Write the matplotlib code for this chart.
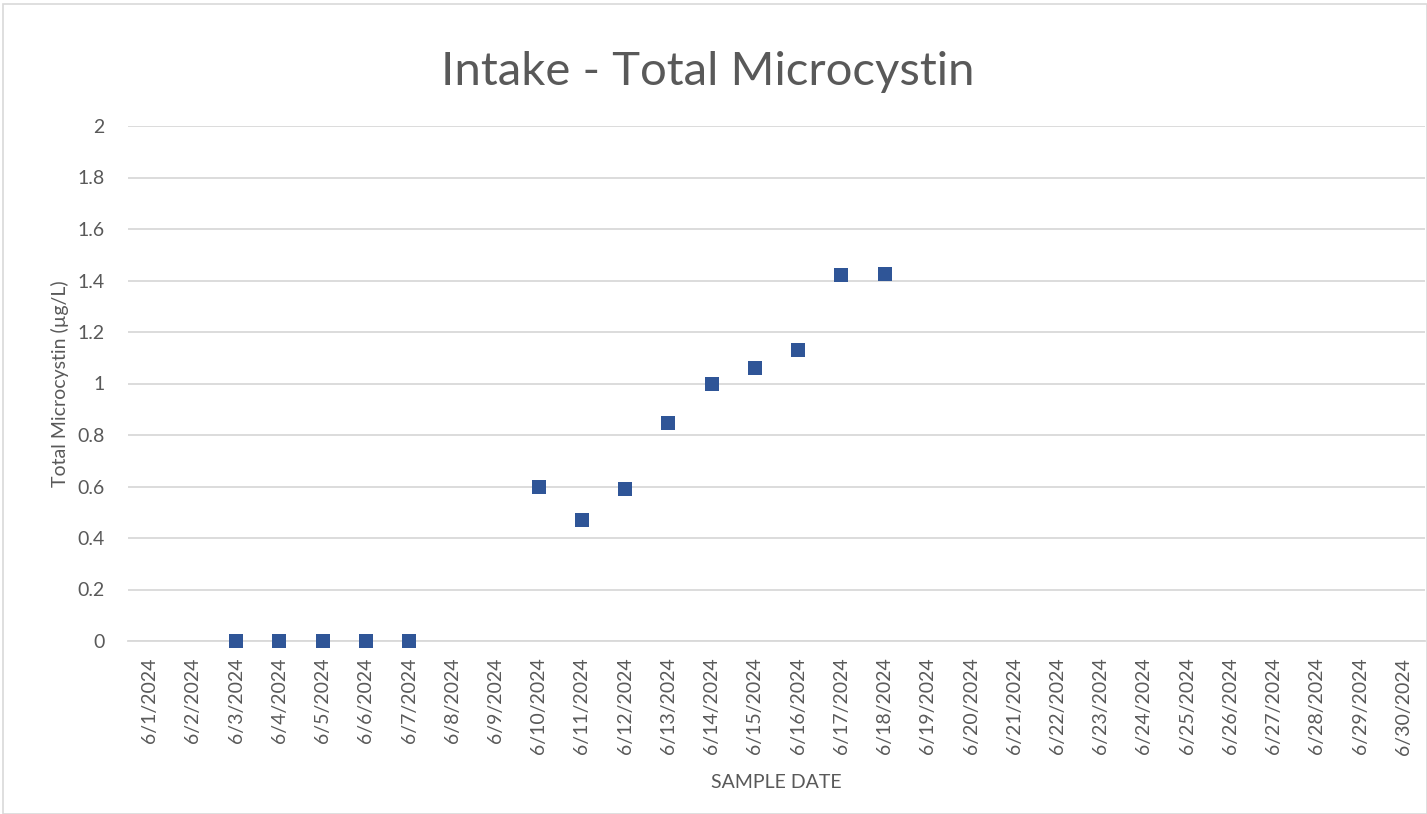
import matplotlib

matplotlib.use("Agg")
import matplotlib.pyplot as plt
from matplotlib.patches import Rectangle


# x axis categories (one per day in June 2024)
DATE_LABELS = [
    "6/1/2024", "6/2/2024", "6/3/2024", "6/4/2024", "6/5/2024", "6/6/2024",
    "6/7/2024", "6/8/2024", "6/9/2024", "6/10/2024", "6/11/2024", "6/12/2024",
    "6/13/2024", "6/14/2024", "6/15/2024", "6/16/2024", "6/17/2024", "6/18/2024",
    "6/19/2024", "6/20/2024", "6/21/2024", "6/22/2024", "6/23/2024", "6/24/2024",
    "6/25/2024", "6/26/2024", "6/27/2024", "6/28/2024", "6/29/2024", "6/30/2024",
]

# sampled days and total microcystin (ug/L)
SAMPLE_DATES = [
    "6/3/2024", "6/4/2024", "6/5/2024", "6/6/2024", "6/7/2024",
    "6/10/2024", "6/11/2024", "6/12/2024", "6/13/2024", "6/14/2024",
    "6/15/2024", "6/16/2024", "6/17/2024", "6/18/2024",
]
MICROCYSTIN = [
    0.0, 0.0, 0.0, 0.0, 0.0,
    0.60, 0.47, 0.59, 0.845, 1.00,
    1.06, 1.13, 1.42, 1.425,
]

Y_TICKS = [0, 0.2, 0.4, 0.6, 0.8, 1, 1.2, 1.4, 1.6, 1.8, 2]

TEXT_COLOR = "#595959"
GRID_COLOR = "#d9d9d9"
MARKER_COLOR = "#2F5597"

plt.rcParams["font.family"] = ["Lato", "DejaVu Sans"]

fig = plt.figure(figsize=(14.27, 8.14), dpi=100, facecolor="white")
ax = fig.add_axes([128 / 1427, 1 - 641 / 814, (1425 - 128) / 1427, (641 - 126) / 814])

x = [DATE_LABELS.index(d) for d in SAMPLE_DATES]
ax.plot(x, MICROCYSTIN, ls="none", marker="s", ms=10.5, color=MARKER_COLOR,
        markeredgewidth=0, zorder=3, clip_on=False)

ax.set_xlim(-0.5, len(DATE_LABELS) - 0.5)
ax.set_ylim(0, 2)
ax.set_yticks(Y_TICKS)
ax.set_yticklabels([f"{v:g}" for v in Y_TICKS])
ax.set_xticks(range(len(DATE_LABELS)))
ax.set_xticklabels(DATE_LABELS, rotation=90)

ax.grid(axis="y", color=GRID_COLOR, lw=1.3)
ax.set_axisbelow(True)
for side in ("top", "right", "left"):
    ax.spines[side].set_visible(False)
ax.spines["bottom"].set_color(GRID_COLOR)
ax.spines["bottom"].set_linewidth(1.3)
ax.tick_params(axis="both", length=0, labelsize=14, labelcolor=TEXT_COLOR)
ax.tick_params(axis="y", pad=17)
ax.tick_params(axis="x", pad=12)

ax.set_ylabel("Total Microcystin (µg/L)", fontsize=14, color=TEXT_COLOR, labelpad=6)
ax.set_xlabel("SAMPLE DATE", fontsize=14, color=TEXT_COLOR, labelpad=14)

fig.text(708 / 1427, 1 - 72 / 814, "Intake - Total Microcystin", ha="center",
         va="center", fontsize=34, color=TEXT_COLOR, fontweight="normal")

# light chart border like the spreadsheet chart frame
fig.patches.append(Rectangle((3 / 1427, 0), 1 - 3 / 1427, 1 - 4 / 814,
                             transform=fig.transFigure, fill=False,
                             edgecolor=GRID_COLOR, lw=1.2))

fig.savefig("out.png", dpi=100, facecolor="white")
